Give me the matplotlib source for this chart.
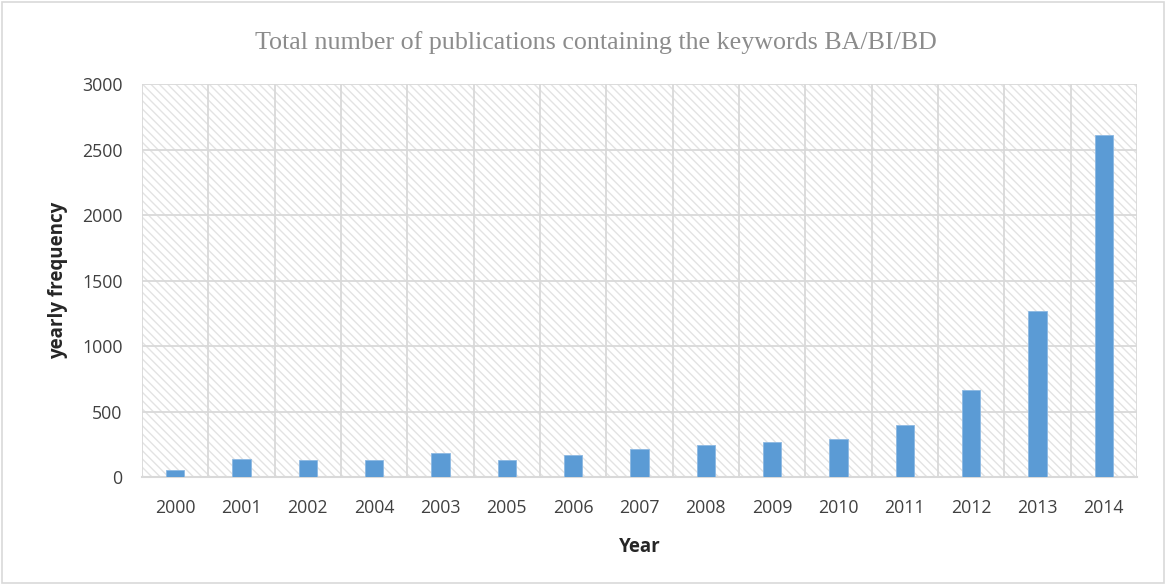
import matplotlib.pyplot as plt
from matplotlib.patches import Rectangle

# data (label order kept as in the source)
years = ['2000', '2001', '2002', '2004', '2003', '2005', '2006', '2007',
         '2008', '2009', '2010', '2011', '2012', '2013', '2014']
counts = [50, 140, 130, 130, 185, 130, 165, 210, 247, 270, 293, 397, 661, 1264, 2610]
yticks = [0, 500, 1000, 1500, 2000, 2500, 3000]

plt.rcParams['hatch.linewidth'] = 1.0

fig = plt.figure(figsize=(11.66, 5.85), dpi=100)
ax = fig.add_axes([0.1218, 0.1846, 0.8533, 0.6718])

# hatched plot background
bg = Rectangle((0, 0), 1, 1, transform=ax.transAxes, facecolor='white',
               edgecolor='#e3e3e3', hatch='\\\\\\\\', linewidth=0, zorder=0)
ax.add_patch(bg)

x = list(range(len(years)))
ax.bar(x, counts, width=0.28, color='#5B9BD5', edgecolor='#8db9e3',
       linewidth=0.6, zorder=3)

ax.set_xlim(-0.5, len(years) - 0.5)
ax.set_ylim(0, 3000)
ax.set_yticks(yticks)
ax.set_xticks(x)
ax.set_xticklabels(years)
ax.set_xticks([i + 0.5 for i in range(-1, len(years))], minor=True)

ax.grid(axis='y', which='major', color='#d9d9d9', linewidth=1.3, zorder=1)
ax.grid(axis='x', which='minor', color='#d9d9d9', linewidth=1.3, zorder=1)
ax.tick_params(axis='both', which='both', length=0, labelsize=12.8,
               colors='#404040')
ax.tick_params(axis='x', pad=16)
ax.tick_params(axis='y', pad=14)
for s in ['top', 'right', 'left']:
    ax.spines[s].set_visible(False)
ax.spines['bottom'].set_color('#d9d9d9')
ax.spines['bottom'].set_linewidth(1.5)

for lab in ax.get_xticklabels() + ax.get_yticklabels():
    lab.set_family('Open Sans')

ax.set_ylabel('yearly frequency', fontsize=13.5, fontweight='bold',
              family='Open Sans', color='#262626', labelpad=10)
ax.set_xlabel('Year', fontsize=13.5, fontweight='bold', family='Open Sans',
              color='#262626', labelpad=14)

fig.text(0.511, 0.928, 'Total number of publications containing the keywords BA/BI/BD',
         ha='center', va='center', fontsize=18.7, color='#8c8c8c',
         family='Liberation Serif')

# chart border
fig.patches.append(Rectangle((0.002, 0.004), 0.996, 0.992, transform=fig.transFigure,
                             fill=False, edgecolor='#d9d9d9', linewidth=1.2))

fig.savefig('out.png', dpi=100)
